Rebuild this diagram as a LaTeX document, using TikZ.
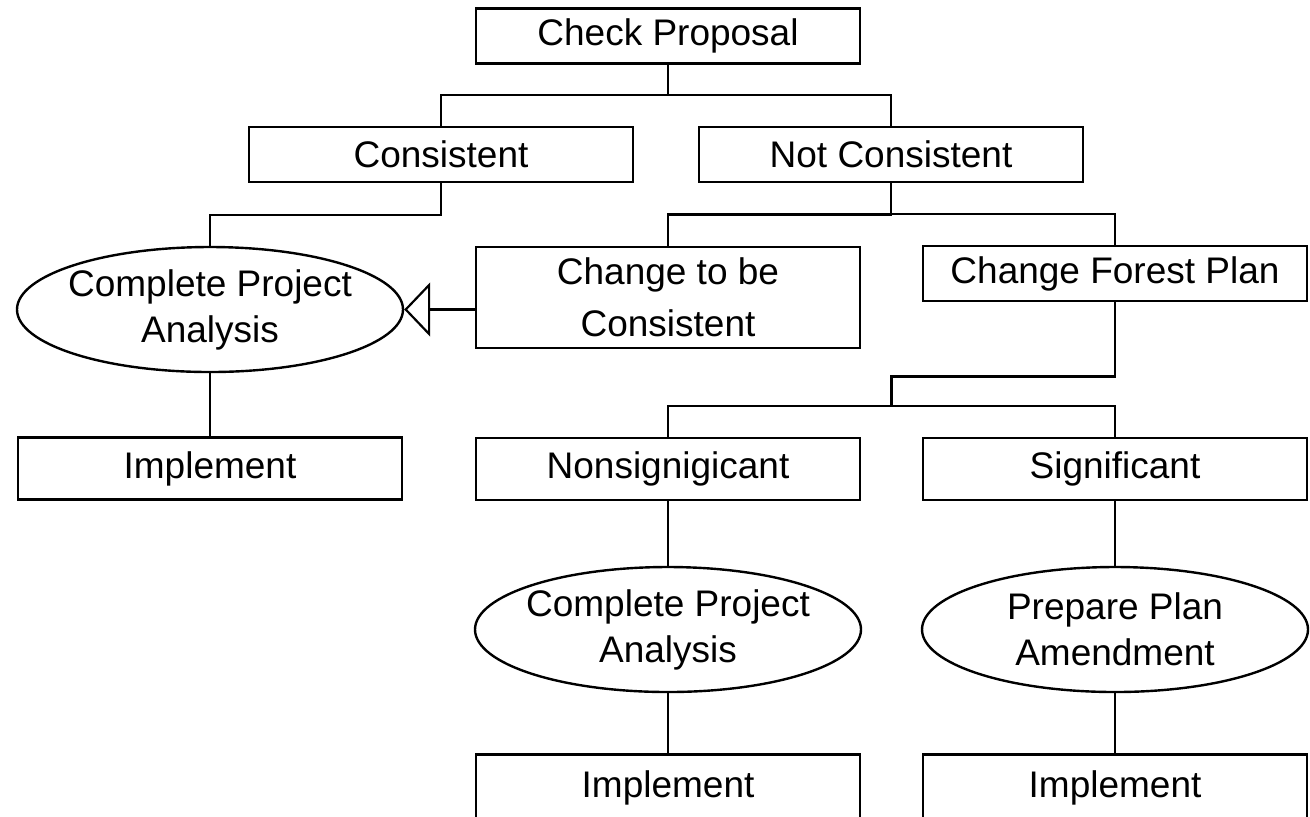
\documentclass[tikz,border=0pt]{standalone}
\usepackage{fontspec}
\setmainfont{Liberation Sans}
\usepackage{tikz}
\usetikzlibrary{arrows.meta,shapes.geometric,positioning,calc}

\begin{document}
\begin{tikzpicture}[on grid, node distance=223.5pt,
    font=\fontsize{18.5}{23}\selectfont,
    box/.style={draw,line width=1.4pt,minimum width=192pt,minimum height=27.5pt,align=center,inner sep=2pt},
    tall/.style={box,minimum height=31pt},
    oval/.style={draw,ellipse,line width=1.2pt,minimum width=193pt,minimum height=62.5pt,align=center,inner xsep=-6pt,inner ysep=0pt},
    link/.style={line width=1.1pt},
    elbow/.style={to path={|- ($(\tikztostart)!.5!(\tikztotarget)$) -| (\tikztotarget)}}]
  \useasboundingbox (0,0) rectangle (655pt,-408pt);
  \node[box] (check) at (334pt,-18pt) {Check Proposal};
  \node[box,below left=59.25pt and 113.5pt of check] (cons) {Consistent};
  \node[box,right=225pt of cons] (notc) {Not Consistent};
  \node[oval,below left=77.5pt and 115.5pt of cons] (ana1) {Complete Project\\Analysis};
  \node[tall,below=79.5pt of ana1] (impl1) {Implement};
  \node[box,minimum height=50.5pt,below left=71.5pt and 111.5pt of notc] (chg) {Change to be\\[3pt]Consistent};
  \node[box,below right=59.5pt and 112pt of notc] (cfp) {Change Forest Plan};
  \node[tall,below=85.75pt of chg] (nons) {Nonsignigicant};
  \node[tall,right=of nons] (sig) {Significant};
  \node[oval,below=80.25pt of nons] (ana2) {Complete Project\\Analysis};
  \node[oval,right=of ana2] (amend) {Prepare Plan\\Amendment};
  \node[tall,minimum height=33pt,below=79pt of ana2] (impl2) {Implement};
  \node[tall,minimum height=33pt,right=of impl2] (impl3) {Implement};
  \coordinate (jn) at ($(nons.north)!.5!(sig.north)+(0,15.5pt)$);

  \draw[link] (check.south) to[elbow] (cons.north);
  \draw[link] (check.south) to[elbow] (notc.north);
  \draw[link] (cons.south) to[elbow] (ana1.north);
  \draw[link] (ana1.south) -- (impl1.north);
  \draw[link] (notc.south) to[elbow] (chg.north);
  \draw[link] (notc.south) to[elbow] (cfp.north);
  \draw[link,-{Triangle[open,length=13pt,width=27pt]}] (chg.west |- ana1.east) -- (ana1.east);
  \draw[link] (cfp.south) -- ++(0,-37pt) -| (jn);
  \draw[link] (nons.north) |- (jn) -| (sig.north);
  \draw[link] (nons.south) -- (ana2.north);
  \draw[link] (ana2.south) -- (impl2.north);
  \draw[link] (sig.south) -- (amend.north);
  \draw[link] (amend.south) -- (impl3.north);
\end{tikzpicture}
\end{document}
